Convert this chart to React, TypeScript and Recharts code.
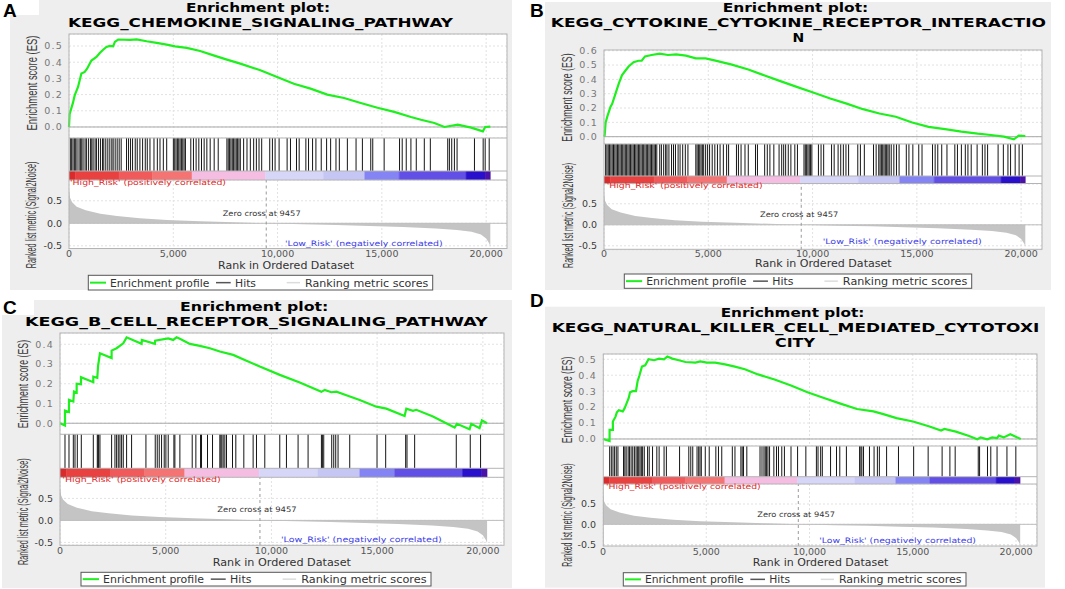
import React from 'react';
import { LineChart, Line, AreaChart, Area, ComposedChart, XAxis, YAxis, CartesianGrid, ReferenceLine, ReferenceArea } from 'recharts';

type Pt = [number, number];

const X_MAX = 21000;
const X_TICKS = [0, 5000, 10000, 15000, 20000];
const GRID_X = [5000, 10000, 15000, 20000];
const METRIC_TICKS = [-0.5, 0, 0.5];
const ZERO_CROSS = 9457;

const TITLE_A = ['Enrichment plot:', 'KEGG_CHEMOKINE_SIGNALING_PATHWAY'];
const TITLE_B = ['Enrichment plot:', 'KEGG_CYTOKINE_CYTOKINE_RECEPTOR_INTERACTIO', 'N'];
const TITLE_C = ['Enrichment plot:', 'KEGG_B_CELL_RECEPTOR_SIGNALING_PATHWAY'];
const TITLE_D = ['Enrichment plot:', 'KEGG_NATURAL_KILLER_CELL_MEDIATED_CYTOTOXI', 'CITY'];

const ES_TICKS_A = [0, 0.1, 0.2, 0.3, 0.4, 0.5];
const ES_TICKS_B = [0, 0.1, 0.2, 0.3, 0.4, 0.5, 0.6];
const ES_TICKS_C = [0, 0.1, 0.2, 0.3, 0.4];
const ES_TICKS_D = [0, 0.1, 0.2, 0.3, 0.4, 0.5];

// running enrichment score, [rank, ES]
const ES_A: Pt[] = [
  [0, 0], [32, 0.08], [192, 0.15], [273, 0.195], [433, 0.247], [594, 0.33], [754, 0.34], [866, 0.36],
  [1075, 0.41], [1315, 0.432], [1476, 0.457], [1636, 0.477], [1797, 0.494], [1957, 0.5], [2117, 0.498],
  [2198, 0.525], [2358, 0.54], [2920, 0.538], [3240, 0.541], [3722, 0.529], [4203, 0.519], [4684, 0.508],
  [5085, 0.498], [5646, 0.488], [6288, 0.469], [6930, 0.442], [7571, 0.416], [8213, 0.391], [9176, 0.35],
  [9977, 0.309], [10780, 0.267], [11582, 0.237], [12384, 0.2], [13186, 0.179], [13988, 0.148],
  [14790, 0.119], [15592, 0.093], [16394, 0.062], [16875, 0.045], [17517, 0.025], [17998, 0.0],
  [18640, 0.014], [19281, -0.004], [19843, -0.027], [19955, 0], [20200, 0.002],
];

const ES_B: Pt[] = [
  [0, 0], [32, 0.01], [79, 0.1], [157, 0.14], [314, 0.21], [393, 0.23], [551, 0.3], [708, 0.37], [865, 0.43],
  [1022, 0.46], [1180, 0.49], [1415, 0.52], [1651, 0.53], [1808, 0.53], [1966, 0.56], [2280, 0.57],
  [2672, 0.58], [3066, 0.57], [3458, 0.575], [3930, 0.566], [4402, 0.547], [4873, 0.547], [5345, 0.531],
  [6131, 0.503], [6917, 0.469], [7703, 0.427], [8489, 0.386], [9275, 0.346], [10061, 0.307], [10847, 0.266],
  [11633, 0.231], [12419, 0.192], [13205, 0.162], [13991, 0.139], [14777, 0.099], [15563, 0.069],
  [16349, 0.053], [17135, 0.035], [17921, 0.021], [18550, 0.012], [19179, 0], [19650, -0.018],
  [19887, 0.007], [20200, 0.005],
];

const ES_C: Pt[] = [
  [0, 0], [236, -0.012], [236, 0.064], [425, 0.057], [425, 0.118], [630, 0.11], [662, 0.16], [788, 0.155],
  [788, 0.2], [992, 0.197], [992, 0.233], [1575, 0.208], [1575, 0.236], [1764, 0.23], [1800, 0.29],
  [1890, 0.354], [2441, 0.33], [2441, 0.368], [2678, 0.38], [2993, 0.405], [3150, 0.435], [3859, 0.402],
  [3870, 0.422], [4489, 0.402], [4500, 0.418], [5119, 0.43], [5355, 0.422], [5513, 0.435], [5670, 0.428],
  [6143, 0.402], [6615, 0.392], [7088, 0.38], [7560, 0.363], [8190, 0.346], [8820, 0.317], [9450, 0.287],
  [10395, 0.245], [11340, 0.206], [12364, 0.159], [12521, 0.169], [12836, 0.157], [13073, 0.16],
  [13545, 0.142], [14175, 0.118], [14963, 0.084], [15435, 0.074], [16301, 0.037], [16380, 0.074],
  [16695, 0.063], [16853, 0.068], [17640, 0.034], [18664, -0.022], [18774, -0.003], [19373, -0.03],
  [19451, -0.003], [19845, -0.025], [19955, 0.014], [20200, 0],
];

const ES_D: Pt[] = [
  [0, 0], [319, -0.013], [319, 0.057], [479, 0.057], [479, 0.11], [607, 0.14], [671, 0.167], [767, 0.18],
  [958, 0.173], [1038, 0.19], [1118, 0.215], [1246, 0.257], [1310, 0.293], [1437, 0.3], [1597, 0.3],
  [1677, 0.363], [1757, 0.395], [1884, 0.454], [2044, 0.462], [2204, 0.5], [2475, 0.494], [2715, 0.504],
  [2954, 0.5], [3114, 0.517], [3354, 0.504], [3673, 0.494], [3993, 0.483], [4472, 0.479], [4711, 0.487],
  [5031, 0.479], [5430, 0.479], [5909, 0.468], [6388, 0.454], [6867, 0.437], [7506, 0.405], [8304, 0.373],
  [9103, 0.335], [9901, 0.293], [10700, 0.257], [11498, 0.222], [12297, 0.188], [13095, 0.173],
  [13575, 0.156], [14213, 0.131], [15012, 0.11], [15810, 0.078], [16369, 0.053], [16529, 0.063],
  [17088, 0.046], [17727, 0.019], [18126, -0.002], [18286, 0.01], [18605, -0.002], [18845, 0.01],
  [19084, 0.006], [19164, 0.021], [19404, 0.01], [19723, 0.03], [19963, 0.015], [20230, 0],
];

// gene-set hit positions (rank)
const HITS_A = [
  64, 128, 192, 257, 321, 385, 481, 545, 610, 674, 770, 834, 930, 1027, 1091, 1155, 1251, 1315, 1412, 1508,
  1604, 1668, 1764, 1861, 1957, 2053, 2117, 2214, 2310, 2406, 2502, 2759, 2855, 2951, 3048, 3176, 3272,
  3400, 3529, 3657, 3753, 3882, 4074, 4235, 4363, 4523, 4684, 5004, 5069, 5133, 5197, 5261, 5325, 5389,
  5454, 5518, 5582, 5839, 5967, 6095, 6224, 6352, 6480, 6609, 6769, 6961, 7154, 7571, 7635, 7699, 7763,
  7828, 7892, 7956, 8020, 8084, 8148, 8213, 8373, 8534, 8694, 8854, 8983, 9111, 9239, 9624, 9753, 9881,
  10073, 10458, 10619, 10907, 11036, 11357, 11485, 11678, 11838, 12094, 12351, 12544, 12800, 12961, 13346,
  13763, 14067, 14468, 14564, 15110, 15848, 15976, 16169, 16393, 16650, 17035, 17324, 18158, 18238, 18350,
  18478, 18606, 19440, 19857, 19954, 20146,
];

const HITS_B = [
  79, 141, 204, 267, 330, 393, 456, 519, 582, 645, 707, 770, 833, 896, 959, 1022, 1085, 1148, 1210, 1273,
  1336, 1399, 1462, 1525, 1588, 1651, 1713, 1776, 1839, 1902, 1965, 2028, 2091, 2154, 2217, 2279, 2342,
  2405, 2468, 2531, 2672, 2751, 2861, 2955, 3018, 3113, 3238, 3333, 3427, 3553, 3647, 3773, 3899, 4024,
  4402, 4464, 4527, 4590, 4653, 4716, 4779, 4873, 4968, 5062, 5188, 5313, 5439, 5565, 5722, 5879, 5974,
  6351, 6445, 6571, 6760, 6917, 7263, 7357, 7703, 7829, 7954, 8143, 8394, 8520, 8615, 8709, 8835, 8960,
  9149, 9275, 9589, 9652, 9715, 9778, 9841, 9904, 9966, 10281, 10407, 10532, 10910, 11035, 11224, 11350,
  11476, 11601, 11727, 12167, 12293, 12482, 12922, 13048, 13173, 13236, 13299, 13362, 13425, 13488, 13551,
  13614, 13676, 13771, 13896, 14022, 14148, 14494, 14620, 14808, 15091, 15248, 15751, 15877, 16003, 16192,
  16443, 16820, 16946, 17135, 17323, 17449, 17606, 17889, 18141, 18267, 18392, 18895, 19147, 19367, 19493,
  19713, 19902, 20059,
];

const HITS_C = [
  236, 425, 630, 709, 819, 1008, 1575, 1764, 1796, 1827, 1890, 2441, 2599, 2678, 2756, 2835, 2914, 2993,
  3150, 3386, 4064, 4505, 4599, 4694, 4804, 4930, 5009, 5119, 5387, 5434, 5670, 6253, 6426, 6647, 6694,
  6977, 7214, 7560, 7607, 7655, 7718, 7796, 7875, 8159, 8316, 8694, 9135, 9293, 9686, 10395, 10710, 11261,
  11734, 12364, 12411, 12474, 12852, 12947, 13041, 13151, 13703, 14994, 15404, 16349, 16412, 16774, 18743,
  19404, 19892,
];

const HITS_D = [
  319, 399, 479, 559, 639, 719, 990, 1054, 1118, 1214, 1278, 1357, 1437, 1517, 1597, 1661, 1725, 1789, 1853,
  1916, 1996, 2156, 2236, 2396, 2603, 2715, 2954, 3066, 3705, 4152, 4248, 4344, 4551, 4631, 4695, 4759, 4950,
  5142, 5462, 5590, 5749, 6260, 6388, 6675, 6739, 6803, 6963, 7602, 7698, 7793, 7857, 7921, 7985, 8065, 8272,
  8400, 8496, 8656, 8784, 9103, 9422, 9822, 10333, 10412, 10540, 10620, 11019, 11307, 11466, 11786, 12425,
  12488, 12536, 12616, 12904, 13127, 13287, 13383, 13734, 14309, 15044, 15746, 16423, 16800, 17056, 18174,
  18238, 18621, 18781, 19084, 19563, 19994,
];

// ranked list metric (Signal2Noise), [rank, value]
const METRIC: Pt[] = [
  [0, 0.75], [50, 0.57], [150, 0.47], [370, 0.37], [800, 0.29], [1500, 0.21], [2300, 0.16], [3400, 0.11],
  [4700, 0.075], [6300, 0.048], [7900, 0.024], [9457, 0], [11200, -0.022], [12800, -0.037], [14400, -0.058],
  [16000, -0.08], [17600, -0.115], [18600, -0.15], [19300, -0.19], [19750, -0.25], [20000, -0.34],
  [20150, -0.45], [20200, -0.52],
];

// phenotype colour bar, [from, to, colour]
const COLOR_BAR: [number, number, string][] = [
  [0, 300, '#d92b2b'], [300, 2400, '#e8413f'], [2400, 4000, '#f05a5a'], [4000, 5900, '#f47474'],
  [5900, 9420, '#f6bde2'], [9420, 12200, '#d6d6f9'], [12200, 14180, '#c6c6f5'], [14180, 15830, '#8484f4'],
  [15830, 19040, '#6250e6'], [19040, 19950, '#2810cc'], [19950, 20200, '#4a12a8'],
];

const AXIS_W = 40;
const FONT = '"DejaVu Sans", sans-serif';
const NARROW = '"Liberation Sans Narrow", "Liberation Sans", sans-serif';
const BORDER = '#b4b4b4';

type Box = { x: number; y: number; w: number };
type Panel = {
  letter: string; letterPos: [number, number];
  bg: [number, number, number, number]; white?: [number, number, number, number];
  title: string[]; titleBoxes: Box[];
  plotL: number; plotW: number; esTop: number; esH: number; hitsH: number; colorH: number; metricH: number;
  esDomain: [number, number]; esTicks: number[]; metricDomain: [number, number]; xTickGap: number;
  es: Pt[]; hits: number[];
  esLabel: { cx: number; cy: number; len: number }; metricLabel: { cx: number; cy: number; len: number };
  high: Box; zero: Box; low: Box; rankTitle: Box;
  legend: { x: number; y: number; w: number; h: number };
};

const PANELS: Panel[] = [
  {
    letter: 'A', letterPos: [3, 17], bg: [10, 0, 502, 290], white: [0, 0, 39, 15],
    title: TITLE_A, titleBoxes: [{ x: 186, y: 12, w: 144 }, { x: 68, y: 27, w: 385 }],
    plotL: 69, plotW: 438, esTop: 34, esH: 104, hitsH: 33, colorH: 9, metricH: 68.5,
    esDomain: [-0.068, 0.574], esTicks: ES_TICKS_A, metricDomain: [-0.56, 0.962], xTickGap: 2,
    es: ES_A, hits: HITS_A,
    esLabel: { cx: 31.7, cy: 83, len: 95 }, metricLabel: { cx: 30.7, cy: 215, len: 106.6 },
    high: { x: 70, y: 185, w: 156 }, zero: { x: 222.7, y: 215.5, w: 78 }, low: { x: 285, y: 246, w: 157.7 },
    rankTitle: { x: 218, y: 269, w: 136 }, legend: { x: 88.3, y: 275.3, w: 344.4, h: 14.7 },
  },
  {
    letter: 'B', letterPos: [530, 16.7], bg: [545, 2, 506, 288],
    title: TITLE_B, titleBoxes: [{ x: 722.7, y: 12.3, w: 145.6 }, { x: 550.7, y: 27.3, w: 495.3 }, { x: 792.5, y: 41.7, w: 11.7 }],
    plotL: 604, plotW: 438, esTop: 50, esH: 94, hitsH: 32, colorH: 7.5, metricH: 65.8,
    esDomain: [-0.051, 0.605], esTicks: ES_TICKS_B, metricDomain: [-0.595, 0.971], xTickGap: 0.5,
    es: ES_B, hits: HITS_B,
    esLabel: { cx: 567.3, cy: 97.5, len: 88.3 }, metricLabel: { cx: 568, cy: 215.5, len: 105 },
    high: { x: 606.7, y: 188.3, w: 156 }, zero: { x: 760, y: 216.7, w: 78.3 }, low: { x: 822.7, y: 244.3, w: 159 },
    rankTitle: { x: 755, y: 267.2, w: 136.7 }, legend: { x: 624.3, y: 274, w: 347.4, h: 14.3 },
  },
  {
    letter: 'C', letterPos: [3, 314], bg: [2, 300, 510, 288], white: [0, 290, 34, 25],
    title: TITLE_C, titleBoxes: [{ x: 180, y: 311, w: 148.3 }, { x: 25, y: 326, w: 462.7 }],
    plotL: 60, plotW: 444, esTop: 333, esH: 101.3, hitsH: 34, colorH: 9, metricH: 68,
    esDomain: [-0.056, 0.457], esTicks: ES_TICKS_C, metricDomain: [-0.559, 0.986], xTickGap: 2,
    es: ES_C, hits: HITS_C,
    esLabel: { cx: 23.3, cy: 384, len: 88.3 }, metricLabel: { cx: 22.5, cy: 511.7, len: 106.7 },
    high: { x: 62.3, y: 482.3, w: 158.4 }, zero: { x: 217.3, y: 512.3, w: 79.4 }, low: { x: 281, y: 542.3, w: 160.7 },
    rankTitle: { x: 212.7, y: 565.5, w: 138.3 }, legend: { x: 81, y: 572.3, w: 350, h: 13.7 },
  },
  {
    letter: 'D', letterPos: [530, 306.7], bg: [545, 306.7, 500, 281],
    title: TITLE_D, titleBoxes: [{ x: 720.7, y: 317.3, w: 143.6 }, { x: 551.7, y: 331.7, w: 487.6 }, { x: 775, y: 346.7, w: 40 }],
    plotL: 603.3, plotW: 433.7, esTop: 354, esH: 92, hitsH: 30.7, colorH: 7.3, metricH: 62,
    esDomain: [-0.044, 0.533], esTicks: ES_TICKS_D, metricDomain: [-0.534, 0.993], xTickGap: 2,
    es: ES_D, hits: HITS_D,
    esLabel: { cx: 567.3, cy: 400, len: 86.7 }, metricLabel: { cx: 567, cy: 515, len: 103.3 },
    high: { x: 606, y: 489, w: 154.7 }, zero: { x: 757.3, y: 516.7, w: 77.7 }, low: { x: 819.3, y: 543.3, w: 156.7 },
    rankTitle: { x: 752.7, y: 566, w: 135.7 }, legend: { x: 623.3, y: 572.7, w: 342.7, h: 13.3 },
  },
];

const fmtTick = (v: number) => v.toFixed(1);
const fmtRank = (v: number) => String(v).replace(/\B(?=(\d{3})+(?!\d))/g, ',');
const noMargin = { top: 0, right: 0, bottom: 0, left: 0 };

function EsChart({ p }: { p: Panel }) {
  const data = p.es.map(([rank, es]) => ({ rank, es }));
  return (
    <div style={{ position: 'absolute', left: p.plotL - AXIS_W, top: p.esTop - 6 }}>
      <LineChart width={p.plotW + AXIS_W} height={p.esH + 6} data={data} margin={{ top: 6, right: 0, bottom: 0, left: 0 }}>
        <CartesianGrid stroke="#e2e2e2" strokeDasharray="2 2" />
        <XAxis type="number" dataKey="rank" domain={[0, X_MAX]} ticks={GRID_X} hide />
        <YAxis type="number" domain={p.esDomain} ticks={p.esTicks} interval={0} width={AXIS_W}
          axisLine={false} tickLine={false} tickSize={0} tickMargin={6} tickFormatter={fmtTick}
          tick={{ fontSize: 9.5, fill: '#777', fontFamily: FONT, letterSpacing: 1.2 }} />
        <ReferenceLine y={0} stroke="#a8a8a8" />
        <Line type="linear" dataKey="es" stroke="#1ef01e" strokeWidth={2.2} dot={false} isAnimationActive={false} />
      </LineChart>
    </div>
  );
}

function HitsChart({ p }: { p: Panel }) {
  const data = p.hits.map(rank => ({ rank, v: 0 }));
  return (
    <div style={{ position: 'absolute', left: p.plotL, top: p.esTop + p.esH }}>
      <ComposedChart width={p.plotW} height={p.hitsH} data={data} margin={noMargin}>
        <XAxis type="number" dataKey="rank" domain={[0, X_MAX]} hide />
        <YAxis type="number" domain={[0, 1]} hide />
        <Line dataKey="v" stroke="none" dot={false} isAnimationActive={false} />
        {p.hits.map((h, i) => <ReferenceLine key={i} x={h} stroke="#151515" strokeWidth={1} />)}
      </ComposedChart>
    </div>
  );
}

function ColorBarChart({ p }: { p: Panel }) {
  const data = COLOR_BAR.map(([from]) => ({ rank: from, v: 0 }));
  return (
    <div style={{ position: 'absolute', left: p.plotL, top: p.esTop + p.esH + p.hitsH }}>
      <ComposedChart width={p.plotW} height={p.colorH} data={data} margin={noMargin}>
        <XAxis type="number" dataKey="rank" domain={[0, X_MAX]} hide />
        <YAxis type="number" domain={[0, 1]} hide />
        <Line dataKey="v" stroke="none" dot={false} isAnimationActive={false} />
        {COLOR_BAR.map(([x1, x2, c], i) => (
          <ReferenceArea key={i} x1={x1} x2={x2} y1={0} y2={1} fill={c} fillOpacity={1} stroke={c} strokeWidth={0.5} />
        ))}
      </ComposedChart>
    </div>
  );
}

function MetricChart({ p }: { p: Panel }) {
  const data = METRIC.map(([rank, metric]) => ({ rank, metric }));
  const top = p.esTop + p.esH + p.hitsH + p.colorH;
  return (
    <div style={{ position: 'absolute', left: p.plotL - AXIS_W, top }}>
      <AreaChart width={p.plotW + AXIS_W} height={p.metricH + 24} data={data} margin={noMargin}>
        <CartesianGrid stroke="#e2e2e2" strokeDasharray="2 2" />
        <XAxis type="number" dataKey="rank" domain={[0, X_MAX]} ticks={X_TICKS} interval={0} height={24}
          axisLine={false} tickLine={false} tickSize={0} tickMargin={p.xTickGap} tickFormatter={fmtRank}
          tick={{ fontSize: 9.5, fill: '#555', fontFamily: FONT }} />
        <YAxis type="number" domain={p.metricDomain} ticks={METRIC_TICKS} interval={0} width={AXIS_W}
          axisLine={false} tickLine={false} tickSize={0} tickMargin={7} tickFormatter={fmtTick}
          tick={{ fontSize: 9.5, fill: '#3a3a3a', fontFamily: FONT }} />
        <Area type="linear" dataKey="metric" stroke="none" fill="#c4c4c4" fillOpacity={1} baseValue={0} isAnimationActive={false} />
        <ReferenceLine y={0} stroke="#bdbdbd" />
        <ReferenceLine x={ZERO_CROSS} stroke="#9a9a9a" strokeDasharray="3 3" />
      </AreaChart>
    </div>
  );
}

function FitText({ b, size, fill, weight, family, children }: { b: Box; size: number; fill: string; weight?: string; family?: string; children: string }) {
  return (
    <text x={b.x} y={b.y} fontSize={size} fill={fill} fontWeight={weight || 'normal'} fontFamily={family || FONT}
      textLength={b.w} lengthAdjust="spacingAndGlyphs">{children}</text>
  );
}

function VLabel({ cx, cy, len, children }: { cx: number; cy: number; len: number; children: string }) {
  return (
    <text transform={`translate(${cx},${cy}) rotate(-90)`} x={-len / 2} y={0} dominantBaseline="central"
      fontSize={14} fill="#3a3a3a" fontFamily={NARROW} textLength={len} lengthAdjust="spacingAndGlyphs">{children}</text>
  );
}

function LegendBox({ l }: { l: Panel['legend'] }) {
  const k = l.w / 344.4;
  const X = (v: number) => l.x + v * k;
  const cy = l.y + l.h / 2;
  const label = (x: number, w: number, s: string) => (
    <text x={X(x)} y={cy} dominantBaseline="central" fontSize={10.5} fill="#333" fontFamily={FONT}
      textLength={w * k} lengthAdjust="spacingAndGlyphs">{s}</text>
  );
  return (
    <g>
      <rect x={l.x} y={l.y} width={l.w} height={l.h} fill="#fff" stroke="#555" />
      <line x1={X(1.7)} x2={X(17.7)} y1={cy} y2={cy} stroke="#1ef01e" strokeWidth={2} />
      {label(21.7, 99.3, 'Enrichment profile')}
      <line x1={X(127.7)} x2={X(142.4)} y1={cy} y2={cy} stroke="#555" strokeWidth={1.5} />
      {label(146.7, 21, 'Hits')}
      <line x1={X(198.4)} x2={X(211.7)} y1={cy} y2={cy} stroke="#dcdcdc" strokeWidth={1.5} />
      {label(216.7, 123.3, 'Ranking metric scores')}
    </g>
  );
}

function Overlay() {
  return (
    <svg width={1065} height={589} style={{ position: 'absolute', left: 0, top: 0, pointerEvents: 'none' }}>
      {PANELS.map(p => {
        const hitsTop = p.esTop + p.esH;
        const colorTop = hitsTop + p.hitsH;
        const metricTop = colorTop + p.colorH;
        const bottom = metricTop + p.metricH;
        return (
          <g key={p.letter}>
            <rect x={p.plotL} y={p.esTop} width={p.plotW} height={bottom - p.esTop} fill="none" stroke={BORDER} />
            {[hitsTop, colorTop, metricTop].map((y, i) => (
              <line key={i} x1={p.plotL} x2={p.plotL + p.plotW} y1={y} y2={y} stroke={BORDER} />
            ))}
            <text x={p.letterPos[0]} y={p.letterPos[1]} fontSize={19} fontWeight="bold" fontFamily='"Liberation Sans", Arial, sans-serif' fill="#000">{p.letter}</text>
            {p.title.map((t, i) => (
              <FitText key={i} b={p.titleBoxes[i]} size={i === 0 ? 12 : 12.5} fill="#000" weight="bold">{t}</FitText>
            ))}
            <VLabel {...p.esLabel}>Enrichment score (ES)</VLabel>
            <VLabel {...p.metricLabel}>Ranked list metric (Signal2Noise)</VLabel>
            <FitText b={p.high} size={7.5} fill="#e02a2a">'High_Risk' (positively correlated)</FitText>
            <FitText b={p.zero} size={7.5} fill="#333">Zero cross at 9457</FitText>
            <FitText b={p.low} size={7.5} fill="#3c3ce6">'Low_Risk' (negatively correlated)</FitText>
            <FitText b={p.rankTitle} size={11} fill="#333">Rank in Ordered Dataset</FitText>
            <LegendBox l={p.legend} />
          </g>
        );
      })}
    </svg>
  );
}

function Backdrop() {
  return (
    <svg width={1065} height={589} style={{ position: 'absolute', left: 0, top: 0 }}>
      <rect x={0} y={0} width={1065} height={589} fill="#fff" />
      {PANELS.map(p => (
        <g key={p.letter}>
          <rect x={p.bg[0]} y={p.bg[1]} width={p.bg[2]} height={p.bg[3]} fill="#eeeeee" />
          {p.white && <rect x={p.white[0]} y={p.white[1]} width={p.white[2]} height={p.white[3]} fill="#fff" />}
          <rect x={p.plotL} y={p.esTop} width={p.plotW} height={p.esH + p.hitsH + p.colorH + p.metricH} fill="#fff" />
        </g>
      ))}
    </svg>
  );
}

export default function App() {
  return (
    <div style={{ position: 'absolute', left: 0, top: 0, width: 1065, height: 589, overflow: 'hidden', background: '#fff' }}>
      <Backdrop />
      {PANELS.map(p => (
        <React.Fragment key={p.letter}>
          <EsChart p={p} />
          <HitsChart p={p} />
          <ColorBarChart p={p} />
          <MetricChart p={p} />
        </React.Fragment>
      ))}
      <Overlay />
    </div>
  );
}
